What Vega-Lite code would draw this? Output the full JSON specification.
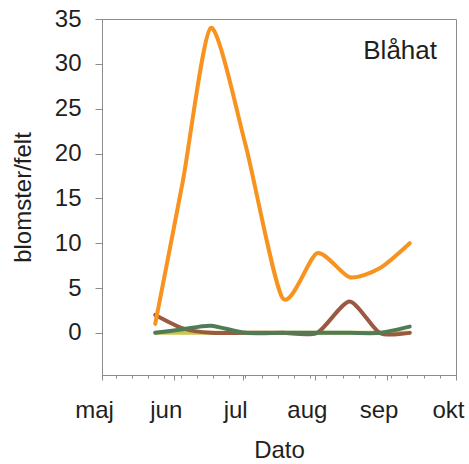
{
  "$schema": "https://vega.github.io/schema/vega-lite/v6.json",
  "autosize": "none",
  "width": 354,
  "height": 356,
  "padding": {"left": 102, "top": 19, "right": 13, "bottom": 89},
  "background": "white",
  "config": {
    "font": "Liberation Sans",
    "view": {"stroke": "#8c8c8c", "strokeWidth": 1},
    "axis": {"grid": false, "domainColor": "#8c8c8c", "tickColor": "#8c8c8c", "labelColor": "#1f1f1f", "titleColor": "#1f1f1f", "labelFont": "Liberation Sans", "titleFont": "Liberation Sans", "titleFontWeight": "normal"}
  },
  "title": {"text": "Blåhat", "orient": "top", "anchor": "end", "frame": "group", "offset": 0, "baseline": "alphabetic", "dx": -19, "dy": 78, "fontSize": 26, "fontWeight": "normal", "color": "#1f1f1f", "font": "Liberation Sans"},
  "data": {"values": [
    {"dag": 23, "serie": "gul", "felt": 0},
    {"dag": 35, "serie": "gul", "felt": 0},
    {"dag": 47, "serie": "gul", "felt": 0},
    {"dag": 62, "serie": "gul", "felt": 0},
    {"dag": 78, "serie": "gul", "felt": 0},
    {"dag": 93, "serie": "gul", "felt": 0},
    {"dag": 107, "serie": "gul", "felt": 0},
    {"dag": 120, "serie": "gul", "felt": 0},
    {"dag": 133, "serie": "gul", "felt": 0},
    {"dag": 23, "serie": "brun", "felt": 2.0},
    {"dag": 35, "serie": "brun", "felt": 0.5},
    {"dag": 47, "serie": "brun", "felt": 0},
    {"dag": 62, "serie": "brun", "felt": 0},
    {"dag": 78, "serie": "brun", "felt": 0},
    {"dag": 93, "serie": "brun", "felt": 0},
    {"dag": 107, "serie": "brun", "felt": 3.5},
    {"dag": 120, "serie": "brun", "felt": 0},
    {"dag": 133, "serie": "brun", "felt": 0},
    {"dag": 23, "serie": "grøn", "felt": 0},
    {"dag": 35, "serie": "grøn", "felt": 0.4},
    {"dag": 47, "serie": "grøn", "felt": 0.8},
    {"dag": 62, "serie": "grøn", "felt": 0},
    {"dag": 78, "serie": "grøn", "felt": 0},
    {"dag": 93, "serie": "grøn", "felt": 0},
    {"dag": 107, "serie": "grøn", "felt": 0},
    {"dag": 120, "serie": "grøn", "felt": 0},
    {"dag": 133, "serie": "grøn", "felt": 0.7},
    {"dag": 23, "serie": "orange", "felt": 1.0},
    {"dag": 35, "serie": "orange", "felt": 17.0},
    {"dag": 47, "serie": "orange", "felt": 34.0},
    {"dag": 62, "serie": "orange", "felt": 21.0},
    {"dag": 78, "serie": "orange", "felt": 3.9},
    {"dag": 93, "serie": "orange", "felt": 8.9},
    {"dag": 107, "serie": "orange", "felt": 6.2},
    {"dag": 120, "serie": "orange", "felt": 7.2},
    {"dag": 133, "serie": "orange", "felt": 10.0}
  ]},
  "encoding": {
    "x": {"field": "dag", "type": "quantitative", "title": "Dato",
      "scale": {"domain": [0, 153], "nice": false, "zero": false},
      "axis": {
        "values": [0, 6, 13, 20, 27, 31, 34, 41, 48, 55, 61, 62, 69, 76, 83, 90, 92, 97, 104, 111, 118, 123, 125, 132, 139, 146, 153],
        "labelExpr": "datum.value == 0 ? 'maj' : datum.value == 31 ? 'jun' : datum.value == 61 ? 'jul' : datum.value == 92 ? 'aug' : datum.value == 123 ? 'sep' : datum.value == 153 ? 'okt' : ''",
        "tickSize": {"condition": {"test": "indexof([0,31,61,92,123,153], datum.value) >= 0", "value": 5}, "value": 3},
        "labelFontSize": 24, "titleFontSize": 24, "labelOverlap": false, "labelFlush": false, "labelBound": false,
        "labelOffset": -8, "labelBaseline": "alphabetic", "labelPadding": 37, "titlePadding": 16
      }},
    "y": {"field": "felt", "type": "quantitative", "title": "blomster/felt",
      "scale": {"domain": [-4.7, 35], "nice": false, "zero": false},
      "axis": {"values": [0, 5, 10, 15, 20, 25, 30, 35], "tickSize": 7, "labelPadding": 14, "labelFontSize": 24, "titleFontSize": 24, "titlePadding": 19}},
    "color": {"field": "serie", "type": "nominal", "legend": null,
      "scale": {"domain": ["gul", "brun", "grøn", "orange"], "range": ["#cdc44b", "#9a5941", "#4f7c56", "#f7931e"]}}
  },
  "layer": [
    {"transform": [{"filter": "datum.serie == 'gul'"}], "mark": {"type": "line", "interpolate": "cardinal", "tension": 0.3, "strokeWidth": 4, "strokeCap": "round"}},
    {"transform": [{"filter": "datum.serie == 'brun'"}], "mark": {"type": "line", "interpolate": "cardinal", "tension": 0.3, "strokeWidth": 4, "strokeCap": "round"}},
    {"transform": [{"filter": "datum.serie == 'grøn'"}], "mark": {"type": "line", "interpolate": "cardinal", "tension": 0.3, "strokeWidth": 4, "strokeCap": "round"}},
    {"transform": [{"filter": "datum.serie == 'orange'"}], "mark": {"type": "line", "interpolate": "cardinal", "tension": 0.3, "strokeWidth": 4, "strokeCap": "round"}}
  ]
}
